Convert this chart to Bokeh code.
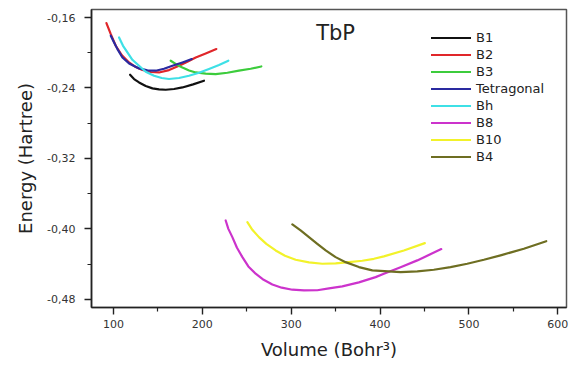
from bokeh.plotting import figure
from bokeh.models import (Legend, LegendItem, FixedTicker, CustomJSTickFormatter,
                          Label, Range1d)
from bokeh.embed import file_html
from bokeh.resources import INLINE

# E(V) curves of TbP for several structures: volume (Bohr^3), energy (Hartree)
b1_v = [118.7, 123.2, 128.8, 136.3, 143.9, 151.3, 158.8, 168.2, 177.6, 189.6, 201.9]
b1_e = [-0.2250, -0.2299, -0.2337, -0.2378, -0.2405, -0.2416, -0.2420, -0.2412,
        -0.2394, -0.2359, -0.2318]

b2_v = [92.1, 97.0, 102.6, 109.3, 117.5, 125.1, 132.6, 141.9, 151.3, 162.6, 173.8,
        183.2, 192.6, 203.8, 215.8]
b2_e = [-0.1663, -0.1789, -0.1921, -0.2027, -0.2110, -0.2163, -0.2196, -0.2219,
        -0.2224, -0.2197, -0.2148, -0.2102, -0.2054, -0.2008, -0.1958]

b3_v = [164.4, 170.8, 177.6, 185.1, 192.6, 203.8, 215.0, 228.2, 241.2, 254.4, 266.4]
b3_e = [-0.2091, -0.2133, -0.2167, -0.2201, -0.2224, -0.2238, -0.2242, -0.2227,
        -0.2204, -0.2182, -0.2156]

tet_v = [97.0, 100.7, 104.5, 110.1, 117.6, 128.8, 138.2, 147.6, 156.9, 166.4, 177.6, 188.1]
tet_e = [-0.1807, -0.1883, -0.1959, -0.2054, -0.2121, -0.2178, -0.2201, -0.2204,
         -0.2182, -0.2148, -0.2110, -0.2072]

bh_v = [106.3, 110.8, 115.7, 121.3, 128.8, 136.3, 145.7, 154.3, 162.5, 173.8, 185.0,
        196.3, 207.5, 218.8, 229.3]
bh_e = [-0.1827, -0.1921, -0.1997, -0.2080, -0.2148, -0.2216, -0.2261, -0.2287,
        -0.2298, -0.2287, -0.2261, -0.2227, -0.2185, -0.2140, -0.2091]

b8_v = [226.3, 229.3, 233.8, 239.0, 245.1, 251.8, 260.0, 269.0, 278.8, 289.3, 301.3,
        314.4, 329.4, 342.5, 357.5, 376.2, 395.0, 404.3, 423.1, 441.9, 468.9]
b8_e = [-0.3905, -0.4000, -0.4094, -0.4215, -0.4321, -0.4427, -0.4509, -0.4578,
        -0.4631, -0.4668, -0.4691, -0.4699, -0.4697, -0.4676, -0.4653, -0.4608,
        -0.4548, -0.4509, -0.4435, -0.4358, -0.4230]

b10_v = [250.7, 256.3, 263.7, 272.0, 282.5, 293.0, 305.0, 320.0, 335.0, 350.0, 365.0,
         380.0, 393.1, 404.3, 426.8, 450.4]
b10_e = [-0.3924, -0.4011, -0.4094, -0.4170, -0.4245, -0.4306, -0.4351, -0.4381,
         -0.4396, -0.4393, -0.4378, -0.4362, -0.4340, -0.4313, -0.4245, -0.4162]

b4_v = [301.3, 310.6, 320.0, 329.4, 338.8, 350.0, 361.2, 376.2, 391.3, 423.1, 441.9,
        460.5, 479.3, 498.1, 516.8, 535.6, 561.8, 587.0]
b4_e = [-0.3950, -0.4018, -0.4094, -0.4170, -0.4245, -0.4321, -0.4378, -0.4434,
        -0.4472, -0.4491, -0.4483, -0.4464, -0.4434, -0.4396, -0.4351, -0.4301,
        -0.4226, -0.4140]

series_names = ["B1", "B2", "B3", "Tetragonal", "Bh", "B8", "B10", "B4"]
series_v = [b1_v, b2_v, b3_v, tet_v, bh_v, b8_v, b10_v, b4_v]
series_e = [b1_e, b2_e, b3_e, tet_e, bh_e, b8_e, b10_e, b4_e]
series_colors = ["#111111", "#e0262a", "#3ccc3c", "#2a2aa0", "#3ee0e6",
                 "#cc33cc", "#f2f22a", "#6e6e22"]

x_major = [100, 200, 300, 400, 500, 600]
x_minor = [150, 250, 350, 450, 550]
y_major = [-0.48, -0.40, -0.32, -0.24, -0.16]
y_minor = [-0.44, -0.36, -0.28, -0.20]

FONT = "DejaVu Sans"

p = figure(width=570, height=365, output_backend="svg", toolbar_location=None,
           x_range=Range1d(75.3, 609.8), y_range=Range1d(-0.4893, -0.1509),
           min_border_left=91, min_border_right=4, min_border_top=9,
           min_border_bottom=58)
p.background_fill_color = "white"
p.border_fill_color = "white"
p.xgrid.visible = False
p.ygrid.visible = False
p.outline_line_color = "#555555"
p.outline_line_width = 1.5

items = []
for name, v, e, c in zip(series_names, series_v, series_e, series_colors):
    r = p.line(v, e, line_color=c, line_width=2.2, line_join="round", line_cap="round")
    items.append(LegendItem(label=name, renderers=[r]))

legend = Legend(items=items, location=(340, 142), spacing=0, padding=0, margin=0,
                label_height=17, glyph_height=17, glyph_width=40,
                label_standoff=5, label_text_font=FONT, label_text_font_size="13px",
                label_text_color="#222222", border_line_color=None,
                background_fill_alpha=0)
p.add_layout(legend)

p.xaxis.ticker = FixedTicker(ticks=x_major, minor_ticks=x_minor)
p.yaxis.ticker = FixedTicker(ticks=y_major, minor_ticks=y_minor)
p.yaxis.formatter = CustomJSTickFormatter(code="return tick.toFixed(2).replace('.', ',');")

for ax in (p.xaxis, p.yaxis):
    ax.axis_line_width = 1.6
    ax.axis_line_color = "#222222"
    ax.major_tick_line_color = "#222222"
    ax.minor_tick_line_color = "#222222"
    ax.major_tick_line_width = 1.4
    ax.minor_tick_line_width = 1.2
    ax.major_tick_in = 0
    ax.major_tick_out = 7
    ax.minor_tick_in = 0
    ax.minor_tick_out = 4
    ax.major_label_text_font = FONT
    ax.major_label_text_font_size = "11px"
    ax.major_label_text_color = "#333333"
    ax.axis_label_text_font = FONT
    ax.axis_label_text_font_style = "normal"
    ax.axis_label_text_font_size = "18px"
    ax.axis_label_text_color = "#222222"

p.xaxis.axis_label = "Volume (Bohr\u00b3)"
p.yaxis.axis_label = "Energy (Hartree)"
p.xaxis.major_label_standoff = 5
p.yaxis.major_label_standoff = 9
p.xaxis.axis_label_standoff = 8
p.yaxis.axis_label_standoff = 8

title = Label(x=350, y=-0.1774, text="TbP", text_align="center",
              text_baseline="middle", text_font=FONT, text_font_size="21px",
              text_color="#222222")
p.add_layout(title)

open("out.html", "w").write(file_html(p, INLINE))
